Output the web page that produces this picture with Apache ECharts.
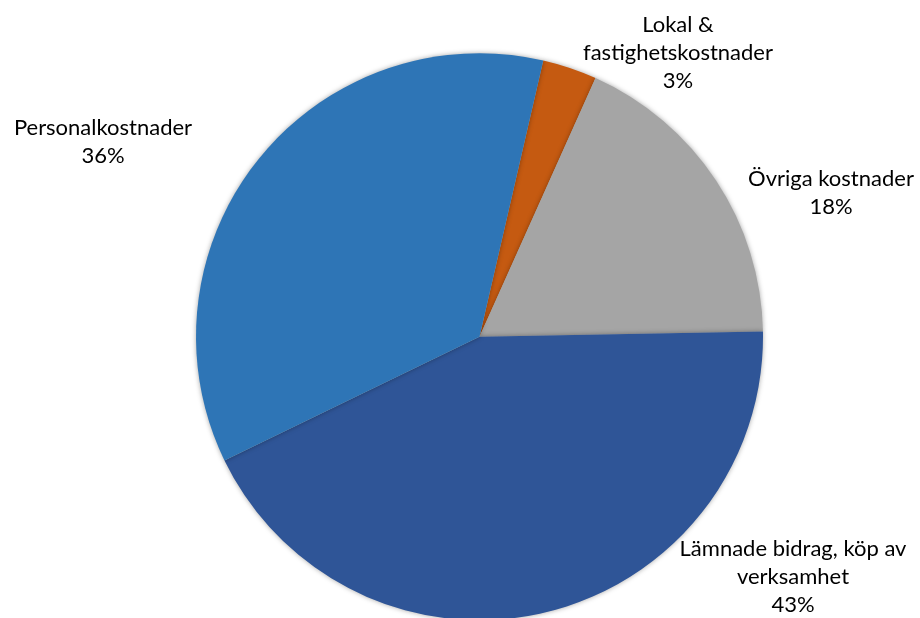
<!DOCTYPE html>
<html>
<head>
<meta charset="utf-8">
<script src="https://cdn.jsdelivr.net/npm/echarts@6/dist/echarts.min.js"></script>
<style>
html,body{margin:0;padding:0;background:#fff;}
#chart{width:920px;height:618px;}
</style>
</head>
<body>
<div id="chart"></div>
<script>
const categories = ['Lokal &\nfastighetskostnader', 'Övriga kostnader', 'Lämnade bidrag, köp av\nverksamhet', 'Personalkostnader'];
const values = [3.1, 18.0, 43.1, 35.8];
const colors = ['#C55A11', '#A5A5A5', '#2F5597', '#2E75B6'];
// label anchor points (centre of each label block), as placed in the original
const labelAnchors = [[678, 53], [831, 193], [793, 577], [103, 142]];

const chart = echarts.init(document.getElementById('chart'), null, {renderer: 'canvas'});
chart.setOption({
  animation: false,
  series: [{
    type: 'pie',
    center: [479.5, 336.7],
    radius: 283.5,
    startAngle: 77,
    clockwise: true,
    avoidLabelOverlap: false,
    data: categories.map((c, i) => ({name: c, value: values[i], itemStyle: {color: colors[i]}})),
    itemStyle: {borderWidth: 0, shadowBlur: 5, shadowColor: 'rgba(0,0,0,0.35)'},
    label: {
      show: true,
      position: 'outside',
      formatter: p => p.name + '\n' + Math.round(p.percent) + '%',
      fontFamily: 'Lato',
      fontSize: 22,
      lineHeight: 28,
      color: '#000'
    },
    labelLine: {show: false},
    labelLayout: p => ({
      x: labelAnchors[p.dataIndex][0],
      y: labelAnchors[p.dataIndex][1],
      align: 'center',
      verticalAlign: 'middle'
    }),
    emphasis: {disabled: true}
  }]
});
</script>
</body>
</html>
